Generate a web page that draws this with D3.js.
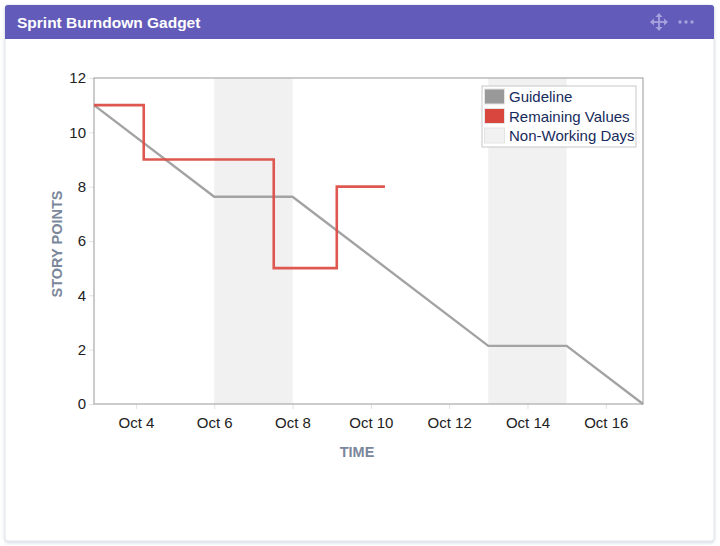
<!DOCTYPE html>
<html>
<head>
<meta charset="utf-8">
<script src="https://cdn.jsdelivr.net/npm/d3@7/dist/d3.min.js"></script>
<style>
  html, body { margin: 0; padding: 0; background: #ffffff; }
  svg { display: block; font-family: "Liberation Sans", Arial, Helvetica, sans-serif; }
</style>
</head>
<body>
<svg id="chart" width="720" height="546"></svg>
<script>
// ---- data ----
const title = "Sprint Burndown Gadget";
const guideDays = [2.93, 6, 8, 13, 15, 16.95];
const guideValues = [11, 7.63, 7.63, 2.14, 2.14, 0];
const remainingDays = [2.93, 4.2, 7.52, 9.13, 10.36];
const remainingValues = [11, 9, 5, 8, 8];
const nonWorkingStart = [6, 13];
const nonWorkingEnd = [8, 15];
const xTickDays = [4, 6, 8, 10, 12, 14, 16];
const xTickLabels = ["Oct 4", "Oct 6", "Oct 8", "Oct 10", "Oct 12", "Oct 14", "Oct 16"];
const yTicks = [0, 2, 4, 6, 8, 10, 12];
const legendLabels = ["Guideline", "Remaining Values", "Non-Working Days"];
const legendColors = ["#999999", "#d9463e", "#f1f1f1"];

const svg = d3.select("#chart");

// card
const defs = svg.append("defs");
const f = defs.append("filter").attr("id", "sh").attr("x", "-5%").attr("y", "-5%").attr("width", "110%").attr("height", "115%");
f.append("feDropShadow").attr("dx", 0).attr("dy", 1.5).attr("stdDeviation", 1.5).attr("flood-color", "#8090b0").attr("flood-opacity", 0.35);

svg.append("rect").attr("x", 5).attr("y", 5).attr("width", 709).attr("height", 536)
  .attr("rx", 3).attr("fill", "#ffffff").attr("stroke", "#e3e5ea").attr("stroke-width", 1)
  .attr("filter", "url(#sh)");
svg.append("path")
  .attr("d", "M5,39 L5,8 Q5,5 8,5 L711,5 Q714,5 714,8 L714,39 Z")
  .attr("fill", "#625bb9");
svg.append("text").attr("x", 17).attr("y", 27.5).attr("fill", "#ffffff")
  .attr("font-size", 15.5).attr("font-weight", "bold").text(title);

// header icons
const ic = svg.append("g").attr("stroke", "#a7a2de").attr("fill", "#a7a2de");
const cx = 659, cy = 22;
ic.append("line").attr("x1", cx - 8).attr("x2", cx + 8).attr("y1", cy).attr("y2", cy).attr("stroke-width", 1.8);
ic.append("line").attr("x1", cx).attr("x2", cx).attr("y1", cy - 8).attr("y2", cy + 8).attr("stroke-width", 1.8);
[[0,-9,-3.5,-5,3.5,-5],[0,9,-3.5,5,3.5,5],[-9,0,-5,-3.5,-5,3.5],[9,0,5,-3.5,5,3.5]].forEach(p => {
  ic.append("path").attr("stroke", "none")
    .attr("d", `M${cx+p[0]},${cy+p[1]} L${cx+p[2]},${cy+p[3]} L${cx+p[4]},${cy+p[5]} Z`);
});
[680, 686, 692].forEach(x => ic.append("circle").attr("cx", x).attr("cy", 22).attr("r", 1.7).attr("stroke", "none"));

// plot
const L = 94, R = 643, T = 78, B = 404;
const x = d3.scaleLinear().domain([2.93, 16.95]).range([L, R]);
const y = d3.scaleLinear().domain([0, 12]).range([B, T]);

const g = svg.append("g");
nonWorkingStart.forEach((s, i) => {
  g.append("rect").attr("x", x(s)).attr("y", T).attr("width", x(nonWorkingEnd[i]) - x(s)).attr("height", B - T)
    .attr("fill", "#f1f1f1");
});

// axes
const xAxis = d3.axisBottom(x).tickValues(xTickDays).tickFormat((d, i) => xTickLabels[i]).tickSize(5).tickSizeOuter(0);
const xg = g.append("g").attr("transform", `translate(0,${B})`).call(xAxis);
xg.select(".domain").remove();
xg.selectAll(".tick line").attr("stroke", "#e2e2e2");
xg.selectAll(".tick text").attr("fill", "#222").attr("font-size", 15).attr("dy", "1.05em")
  .attr("font-family", "'Liberation Sans', Arial, sans-serif");

const yAxis = d3.axisLeft(y).tickValues(yTicks).tickSize(5).tickSizeOuter(0);
const yg = g.append("g").attr("transform", `translate(${L},0)`).call(yAxis);
yg.select(".domain").remove();
yg.selectAll(".tick line").attr("stroke", "#e2e2e2");
yg.selectAll(".tick text").attr("fill", "#222").attr("font-size", 15).attr("x", -8)
  .attr("font-family", "'Liberation Sans', Arial, sans-serif");

// frame
g.append("rect").attr("x", L).attr("y", T).attr("width", R - L).attr("height", B - T)
  .attr("fill", "none").attr("stroke", "#aaaaaa").attr("stroke-width", 1.2);

// guideline
const guide = guideDays.map((d, i) => [d, guideValues[i]]);
g.append("path").datum(guide)
  .attr("d", d3.line().x(d => x(d[0])).y(d => y(d[1])))
  .attr("fill", "none").attr("stroke", "#a3a3a3").attr("stroke-width", 2.4);

// remaining
const rem = remainingDays.map((d, i) => [d, remainingValues[i]]);
g.append("path").datum(rem)
  .attr("d", d3.line().curve(d3.curveStepAfter).x(d => x(d[0])).y(d => y(d[1])))
  .attr("fill", "none").attr("stroke", "#dc4f48").attr("stroke-width", 2.6).attr("stroke-opacity", 0.95);

// axis titles
svg.append("text").attr("x", 357).attr("y", 457).attr("text-anchor", "middle")
  .attr("fill", "#7b879b").attr("font-size", 14.5).attr("font-weight", "bold").text("TIME");
svg.append("text").attr("transform", "translate(62,244) rotate(-90)").attr("text-anchor", "middle")
  .attr("fill", "#7b879b").attr("font-size", 14.5).attr("font-weight", "bold").text("STORY POINTS");

// legend
const lg = svg.append("g").attr("transform", "translate(482,86)");
lg.append("rect").attr("x", 0).attr("y", 0).attr("width", 154).attr("height", 61)
  .attr("fill", "#ffffff").attr("stroke", "#c8c8c8").attr("stroke-width", 1);
legendLabels.forEach((t, i) => {
  const yy = 3 + i * 19.5;
  lg.append("rect").attr("x", 2.5).attr("y", yy).attr("width", 20).attr("height", 15)
    .attr("fill", legendColors[i]).attr("stroke", "#e4e4e4").attr("stroke-width", 1);
  lg.append("text").attr("x", 27).attr("y", yy + 13).attr("fill", "#172b5c")
    .attr("font-size", 15).text(t);
});
</script>
</body>
</html>
